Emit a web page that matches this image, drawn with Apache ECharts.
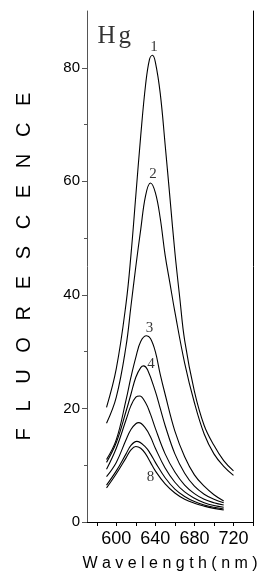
<!DOCTYPE html>
<html>
<head>
<meta charset="utf-8">
<script src="https://cdn.jsdelivr.net/npm/echarts@6/dist/echarts.min.js"></script>
<style>
html,body{margin:0;padding:0;background:#fff}
#main{width:265px;height:579px}
</style>
</head>
<body>
<div id="main"></div>
<script>
var myChart = echarts.init(document.getElementById('main'));

// spectra: [wavelength nm, fluorescence]
var curve1 = [[590,20.2],[600,27],[610,38.5],[615,47],[620,57.5],[625,68],[630,77],[634,81.5],[637,82.2],[640,81],[645,75.5],[650,66.5],[655,57],[660,47.5],[665,39.5],[670,32],[680,23],[690,17],[700,13.5],[710,10.8],[720,9.0]];
var curve2 = [[590,17.4],[600,22],[610,31],[615,38],[620,45],[625,51.5],[630,57.5],[635,59.7],[640,58],[645,53.5],[650,47],[655,42],[660,37],[670,28],[680,21],[690,15.5],[700,12],[710,9.8],[720,8.2]];
var curve3 = [[590,11.0],[600,14.5],[610,21.5],[615,25.5],[620,29],[625,31.8],[631,32.8],[635,32.3],[640,30],[645,26],[650,22.5],[660,16],[670,11.5],[680,8.3],[690,6.3],[700,4.8],[710,3.7]];
var curve4 = [[590,10.5],[600,14],[610,19.5],[615,22.5],[620,25.5],[625,27.2],[628,27.5],[632,26.8],[640,23],[645,20],[650,17],[660,12],[670,8.6],[680,6.3],[690,4.9],[700,4.0],[710,3.4]];
var curve5 = [[590,9.3],[600,13],[610,18],[615,20.5],[620,22],[624,22.2],[630,21],[635,19],[640,16.5],[650,12],[660,8.8],[670,6.5],[680,5.0],[690,4.0],[700,3.4],[710,3.0]];
var curve6 = [[590,8.0],[600,10.5],[610,14.5],[615,16.3],[620,17.3],[623,17.5],[630,16.5],[635,15],[640,13],[650,9.5],[660,7],[670,5.3],[680,4.2],[690,3.4],[700,2.9],[710,2.6]];
var curve7 = [[590,6.5],[600,9],[610,12],[615,13.5],[621,14.2],[630,13.2],[635,12],[640,10.5],[650,7.8],[660,5.8],[670,4.5],[680,3.6],[690,3.0],[700,2.6],[710,2.3]];
var curve8 = [[590,6.0],[600,8.5],[610,11.3],[615,12.7],[620,13.3],[625,13],[630,12],[635,10.5],[640,9],[650,6.7],[660,5.1],[670,4.0],[680,3.3],[690,2.8],[700,2.4],[710,2.1]];
var curves = [curve1, curve2, curve3, curve4, curve5, curve6, curve7, curve8];

// curve numbers and the panel tag, placed in data units
var tagNames = ['Hg', '1', '2', '3', '4', '8'];
var tagPos = [[598,85.6],[638.5,83.6],[637.5,61.2],[634,34.2],[635.5,27.9],[635,7.9]];

var xLabelVals = [600, 640, 680, 720];
var xTickVals = [580, 600, 620, 640, 660, 680, 700, 720, 740];
var yLabelVals = [0, 20, 40, 60, 80];
var yMinorVals = [10, 30, 50, 70];

var serif = '"Liberation Serif","Times New Roman",serif';
var sans = '"Liberation Sans",Arial,sans-serif';

var series = curves.map(function (c, i) {
    return {
        name: 'c' + (i + 1),
        type: 'line',
        data: c,
        smooth: 0.4,
        symbol: 'none',
        lineStyle: {color: '#000', width: 1.1},
        z: 2
    };
});

series.push({
    type: 'scatter',
    symbolSize: 0,
    data: tagNames.map(function (n, i) {
        var item = {name: n, value: tagPos[i]};
        if (n === 'Hg') {
            // little gap between H and g like the original
            item.label = {formatter: '{h|H}{g|g}'};
        }
        return item;
    }),
    label: {
        show: true,
        position: 'inside',
        formatter: '{b}',
        color: '#000',
        fontSize: 15,
        fontFamily: serif,
        rich: {
            h: {fontSize: 25, fontFamily: serif, color: '#000', padding: [0, 3, 0, 0]},
            g: {fontSize: 25, fontFamily: serif, color: '#000'}
        }
    },
    z: 5
});

var option = {
    animation: false,
    backgroundColor: '#fff',
    grid: {left: 87, right: 12, top: 11, bottom: 57},
    xAxis: [{
        type: 'value',
        min: 570,
        max: 740,
        name: 'W a v e l e n g t h ( n m )',
        nameLocation: 'middle',
        nameGap: 34,
        nameTextStyle: {color: '#000', fontSize: 16, fontFamily: sans},
        axisLine: {lineStyle: {color: '#000', width: 1}},
        axisTick: {inside: false, length: 4, customValues: xTickVals, lineStyle: {color: '#000'}},
        axisLabel: {
            customValues: xLabelVals,
            margin: 8,
            color: '#000',
            fontSize: 18,
            fontFamily: '"Liberation Sans Narrow","Arial Narrow",' + sans
        },
        splitLine: {show: false}
    }, {
        type: 'value',
        position: 'top',
        min: 570,
        max: 740,
        axisLine: {show: true, lineStyle: {color: '#000', width: 1}},
        axisTick: {show: false},
        axisLabel: {show: false},
        splitLine: {show: false}
    }],
    yAxis: [{
        type: 'value',
        min: 0,
        max: 90,
        name: 'F   L   U   O   R   E   S   C   E   N   C   E',
        nameLocation: 'middle',
        nameGap: 53,
        nameTextStyle: {color: '#000', fontSize: 20, fontFamily: sans},
        axisLine: {show: true, lineStyle: {color: '#555', width: 1}},
        axisTick: {inside: false, length: 5, customValues: yLabelVals, lineStyle: {color: '#555'}},
        axisLabel: {customValues: yLabelVals, margin: 7, color: '#000', fontSize: 15, fontFamily: sans},
        splitLine: {show: false}
    }, {
        type: 'value',
        position: 'left',
        min: 0,
        max: 90,
        axisLine: {show: false},
        axisTick: {inside: false, length: 3, customValues: yMinorVals, lineStyle: {color: '#555'}},
        axisLabel: {show: false},
        splitLine: {show: false}
    }, {
        type: 'value',
        position: 'right',
        min: 0,
        max: 90,
        axisLine: {show: true, lineStyle: {color: '#000', width: 1}},
        axisTick: {show: false},
        axisLabel: {show: false},
        splitLine: {show: false}
    }],
    series: series
};

myChart.setOption(option);
</script>
</body>
</html>
